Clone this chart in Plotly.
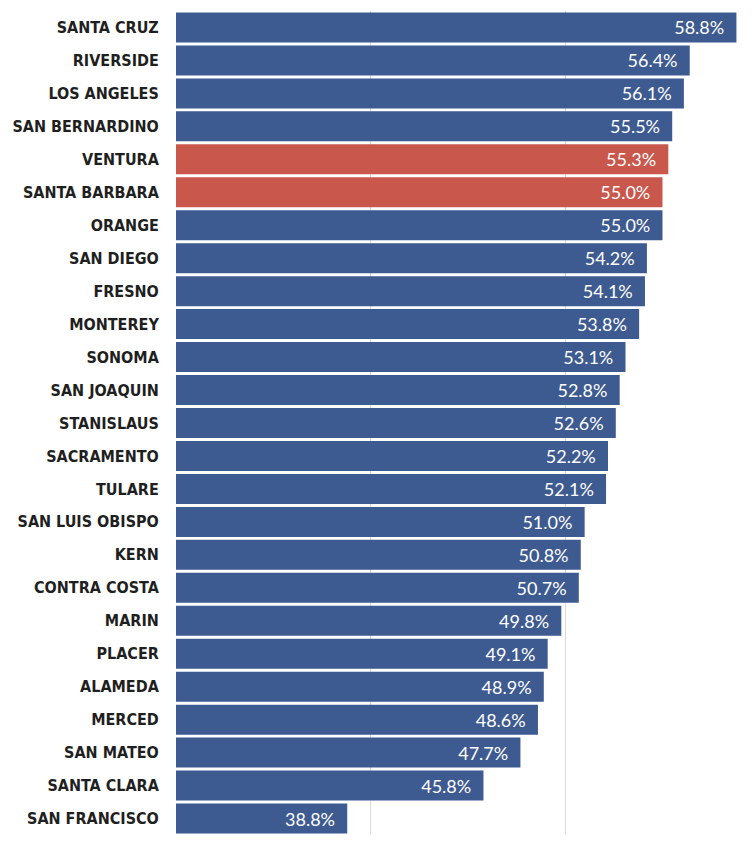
import plotly.graph_objects as go

counties = [
    "SANTA CRUZ", "RIVERSIDE", "LOS ANGELES", "SAN BERNARDINO", "VENTURA",
    "SANTA BARBARA", "ORANGE", "SAN DIEGO", "FRESNO", "MONTEREY", "SONOMA",
    "SAN JOAQUIN", "STANISLAUS", "SACRAMENTO", "TULARE", "SAN LUIS OBISPO",
    "KERN", "CONTRA COSTA", "MARIN", "PLACER", "ALAMEDA", "MERCED",
    "SAN MATEO", "SANTA CLARA", "SAN FRANCISCO",
]
shares = [
    58.8, 56.4, 56.1, 55.5, 55.3, 55.0, 55.0, 54.2, 54.1, 53.8, 53.1,
    52.8, 52.6, 52.2, 52.1, 51.0, 50.8, 50.7, 49.8, 49.1, 48.9, 48.6,
    47.7, 45.8, 38.8,
]
highlighted = ["VENTURA", "SANTA BARBARA"]

BLUE = "#3d5a91"
RED = "#c9574c"
colors = [RED if c in highlighted else BLUE for c in counties]

# trailing non-breaking spaces keep the value a little way in from the bar end
PAD = "\u00a0\u00a0"

fig = go.Figure(
    go.Bar(
        x=shares,
        y=counties,
        orientation="h",
        marker=dict(color=colors, line=dict(width=0)),
        text=[f"{v:.1f}%{PAD}" for v in shares],
        textposition="inside",
        insidetextanchor="end",
        textangle=0,
        textfont=dict(family="Lato, Open Sans, sans-serif", size=18, color="white"),
        cliponaxis=False,
    )
)

fig.update_layout(
    width=752,
    height=845,
    margin=dict(l=176, r=0, t=11, b=10),
    paper_bgcolor="white",
    plot_bgcolor="white",
    bargap=0.09,
    showlegend=False,
    uniformtext=dict(mode=False),
)
fig.update_xaxes(
    range=[30, 59.6],
    tickvals=[40, 50],
    showticklabels=False,
    showgrid=True,
    gridcolor="#d9d9d9",
    gridwidth=1,
    zeroline=False,
    showline=False,
)
fig.update_yaxes(
    categoryorder="array",
    categoryarray=counties[::-1],
    ticks="outside",
    ticklen=13,
    tickcolor="rgba(0,0,0,0)",
    tickfont=dict(family="'DejaVu Sans Condensed', 'Liberation Sans Narrow', sans-serif",
                  size=16, color="#1f1f1f", weight="bold"),
    showgrid=False,
    showline=False,
)

fig.write_html("out.html")
